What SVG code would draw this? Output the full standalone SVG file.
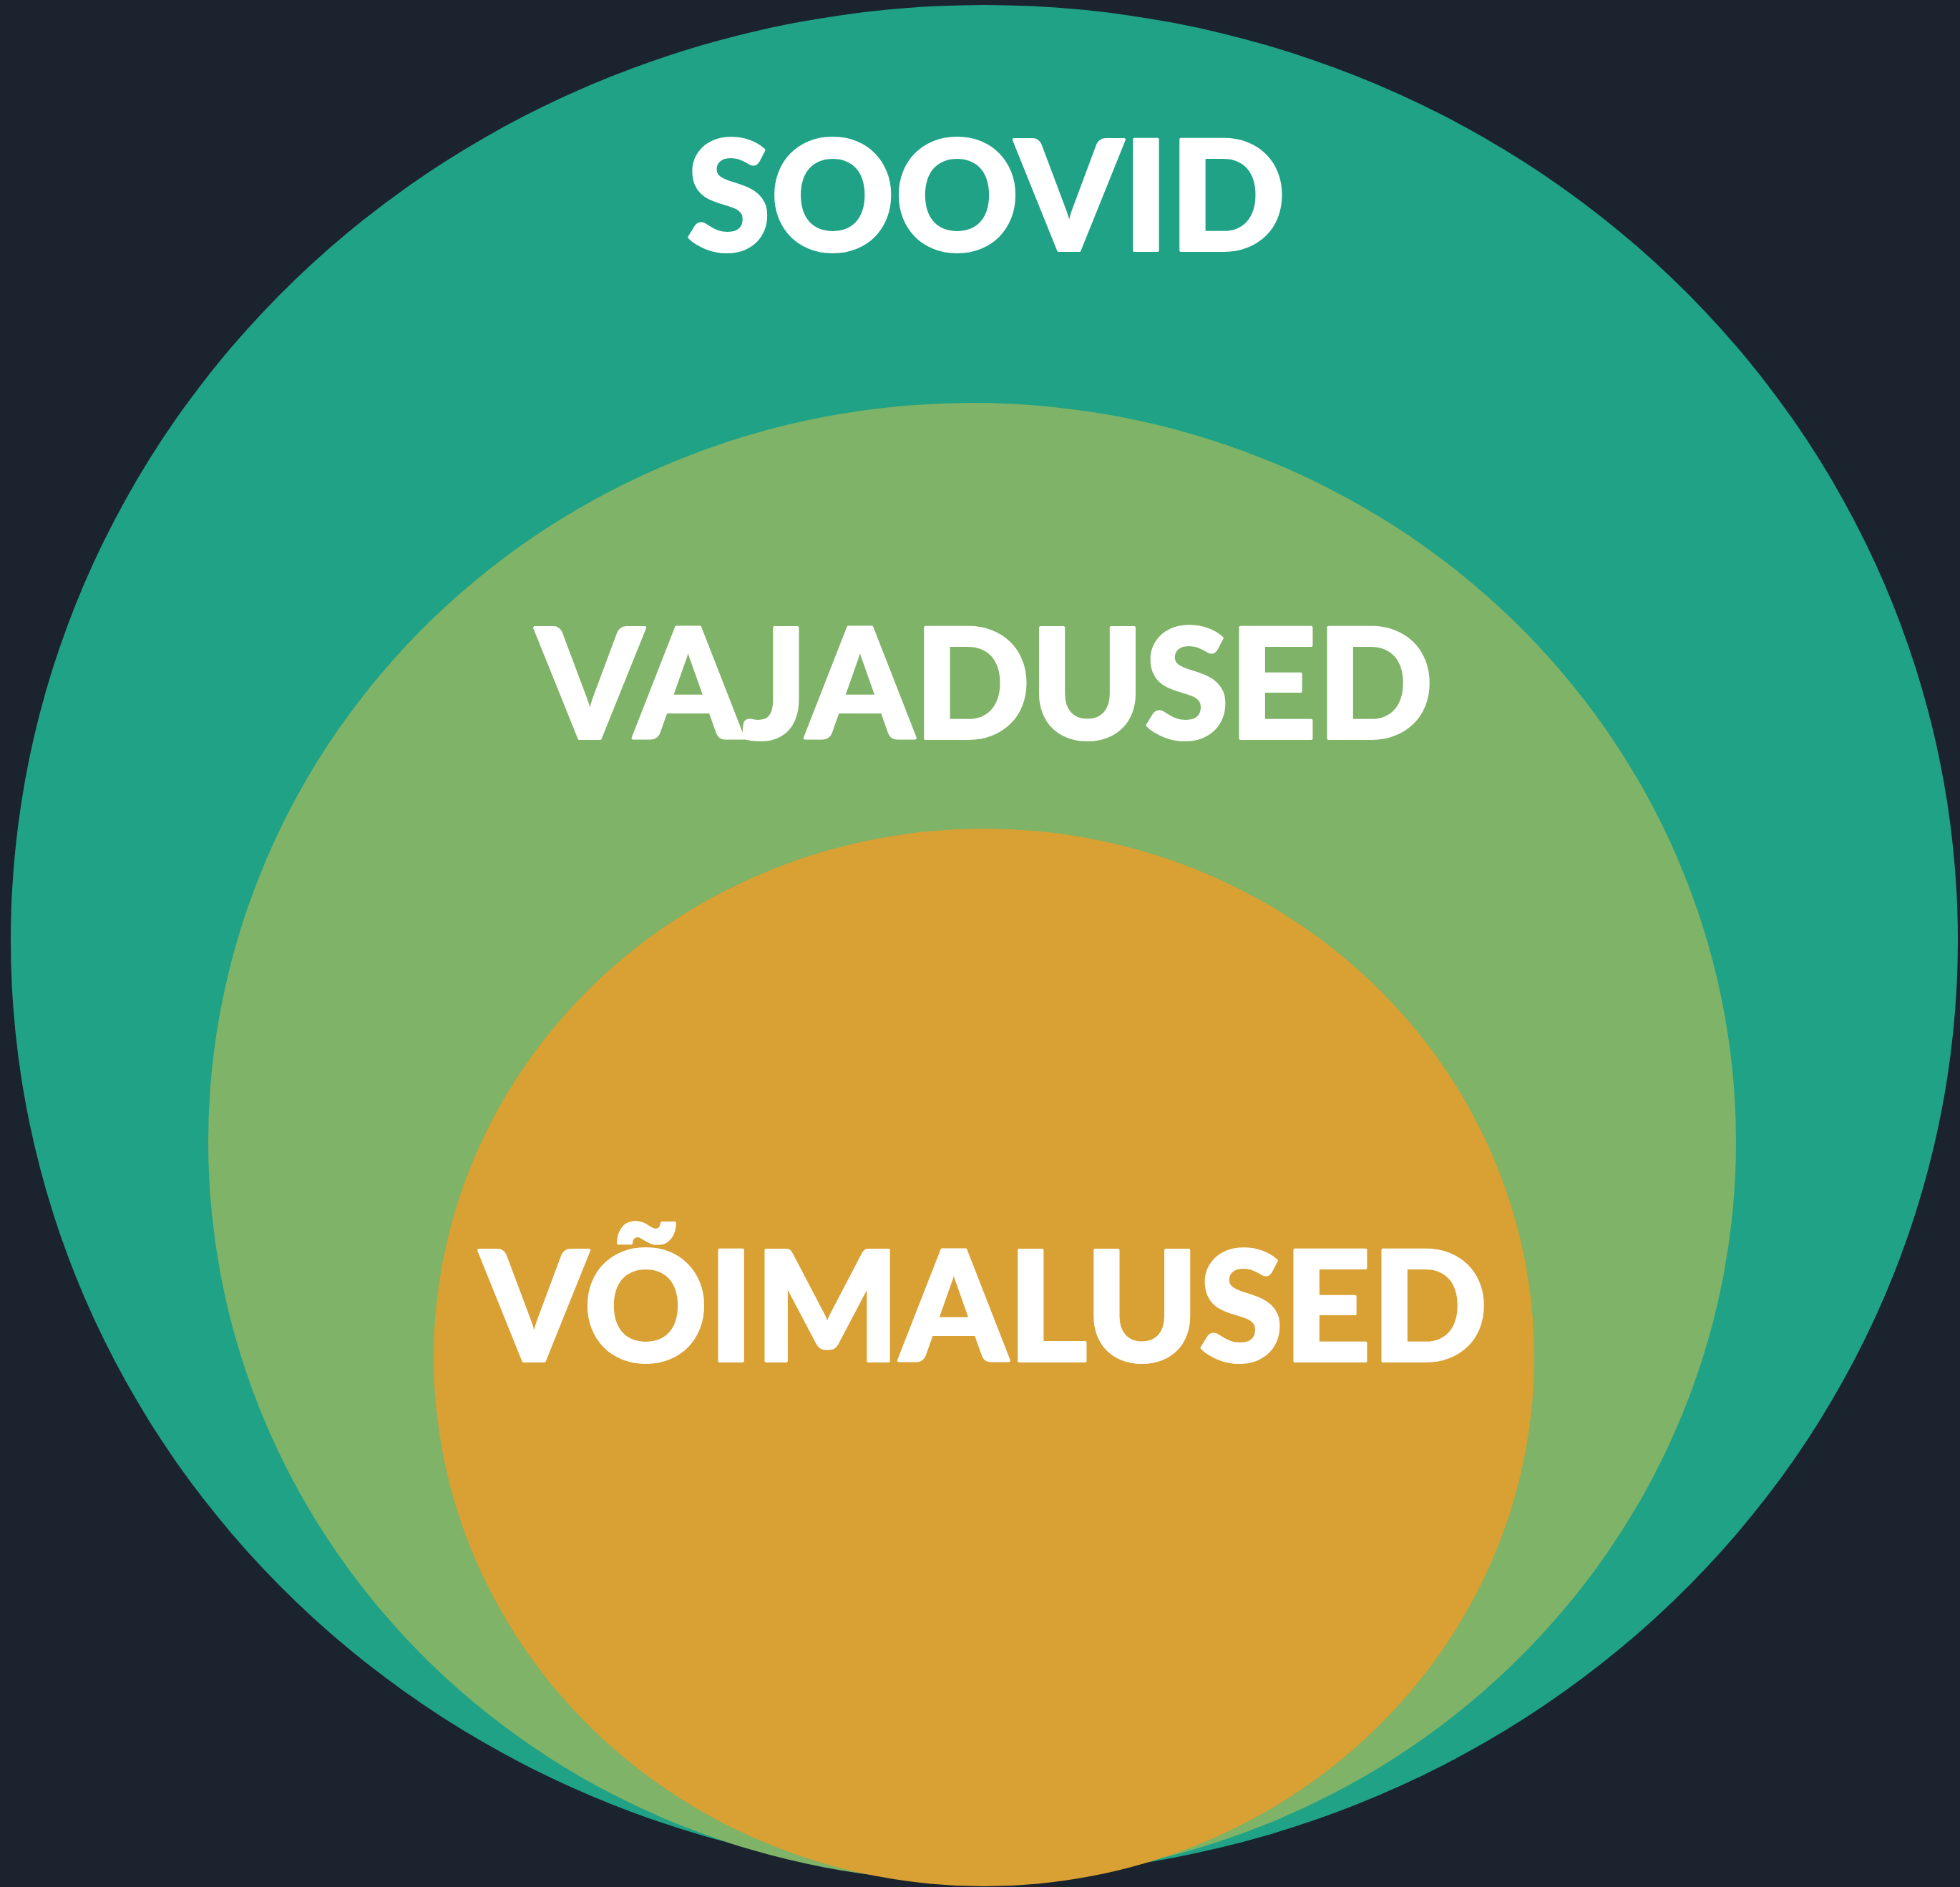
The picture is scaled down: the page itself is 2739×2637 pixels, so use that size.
<svg xmlns="http://www.w3.org/2000/svg" width="2739" height="2637" viewBox="0 0 2739 2637">
<style>
.lbl{font-family:Lato,"Noto Sans","Liberation Sans",sans-serif;font-weight:900;font-size:214px;fill:#ffffff;stroke:#ffffff;stroke-width:4;stroke-linejoin:round;text-anchor:middle}
</style>
<rect x="0" y="0" width="2739" height="2637" fill="#1b232e"/>
<g id="soovid">
<ellipse cx="1375.5" cy="1314" rx="1360.5" ry="1307" fill="#20a286"/>
<text class="lbl" x="1378" y="350">SOOVID</text>
</g>
<g id="vajadused">
<ellipse cx="1358.5" cy="1596" rx="1067.5" ry="1033" fill="#7fb367"/>
<text class="lbl" x="1376" y="1032">VAJADUSED</text>
</g>
<g id="voimalused">
<ellipse cx="1375" cy="1897" rx="769" ry="739" fill="#d9a033"/>
<text class="lbl" x="1375" y="1902">VÕIMALUSED</text>
</g>
<g id="connectors"/>
</svg>
